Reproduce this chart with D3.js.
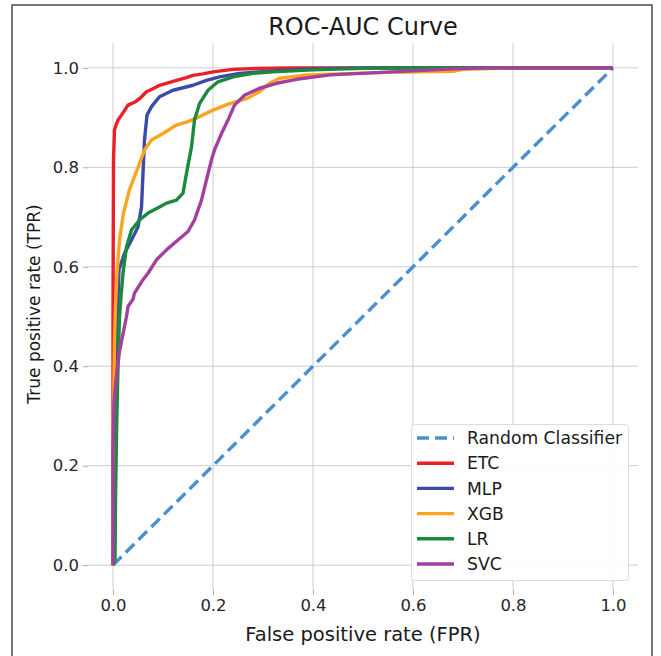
<!DOCTYPE html>
<html><head><meta charset="utf-8">
<script src="https://cdn.jsdelivr.net/npm/d3@7"></script>
<style>html,body{margin:0;padding:0;background:#fff;}svg{display:block;}</style>
</head><body>
<script>
const ticks = [0, 0.2, 0.4, 0.6, 0.8, 1.0];
const tickLabels = ["0.0", "0.2", "0.4", "0.6", "0.8", "1.0"];
const modelNames = ["ETC", "MLP", "XGB", "LR", "SVC"];
const randomFpr = [0, 1];
const randomTpr = [0, 1];
const etcFpr = [0, 0.0, 0.001, 0.003, 0.006, 0.01, 0.017, 0.03, 0.045, 0.053, 0.067, 0.08, 0.093, 0.11, 0.127, 0.145, 0.16, 0.18, 0.2, 0.24, 0.29, 0.35, 0.5, 1.0];
const etcTpr = [0, 0.5, 0.815, 0.875, 0.885, 0.895, 0.905, 0.925, 0.932, 0.938, 0.952, 0.958, 0.965, 0.97, 0.975, 0.98, 0.985, 0.988, 0.992, 0.997, 0.999, 1.0, 1.0, 1.0];
const mlpFpr = [0, 0.002, 0.003, 0.006, 0.008, 0.012, 0.023, 0.037, 0.05, 0.057, 0.06, 0.063, 0.068, 0.077, 0.093, 0.12, 0.16, 0.187, 0.213, 0.253, 0.32, 0.4, 0.5, 1.0];
const mlpTpr = [0, 0.1, 0.2, 0.4, 0.48, 0.594, 0.627, 0.654, 0.68, 0.72, 0.788, 0.855, 0.905, 0.922, 0.942, 0.955, 0.965, 0.975, 0.982, 0.989, 0.994, 0.998, 1.0, 1.0];
const xgbFpr = [0, 0.001, 0.003, 0.005, 0.008, 0.013, 0.021, 0.033, 0.05, 0.063, 0.077, 0.1, 0.127, 0.15, 0.173, 0.2, 0.233, 0.267, 0.293, 0.313, 0.333, 0.38, 0.45, 0.55, 0.68, 0.7, 0.8, 1.0];
const xgbTpr = [0, 0.3, 0.45, 0.52, 0.587, 0.654, 0.708, 0.755, 0.8, 0.835, 0.855, 0.868, 0.885, 0.892, 0.902, 0.915, 0.928, 0.938, 0.952, 0.969, 0.979, 0.985, 0.988, 0.991, 0.993, 0.997, 1.0, 1.0];
const lrFpr = [0, 0.004, 0.005, 0.007, 0.01, 0.013, 0.016, 0.02, 0.027, 0.037, 0.053, 0.07, 0.093, 0.107, 0.127, 0.14, 0.147, 0.157, 0.163, 0.173, 0.19, 0.21, 0.24, 0.28, 0.32, 0.4, 0.5, 0.6, 1.0];
const lrTpr = [0, 0.01, 0.13, 0.264, 0.4, 0.5, 0.54, 0.587, 0.64, 0.674, 0.694, 0.708, 0.72, 0.728, 0.734, 0.748, 0.788, 0.841, 0.895, 0.928, 0.955, 0.972, 0.982, 0.989, 0.992, 0.996, 0.999, 1.0, 1.0];
const svcFpr = [0, 0, 0.002, 0.008, 0.013, 0.02, 0.027, 0.03, 0.04, 0.043, 0.06, 0.07, 0.087, 0.107, 0.13, 0.15, 0.163, 0.177, 0.187, 0.197, 0.203, 0.217, 0.23, 0.243, 0.263, 0.293, 0.327, 0.367, 0.434, 0.6, 0.68, 0.75, 1.0];
const svcTpr = [0, 0.23, 0.33, 0.39, 0.43, 0.465, 0.5, 0.52, 0.535, 0.547, 0.574, 0.587, 0.614, 0.634, 0.654, 0.671, 0.694, 0.734, 0.775, 0.815, 0.835, 0.868, 0.895, 0.925, 0.945, 0.959, 0.969, 0.977, 0.986, 0.994, 0.998, 1.0, 1.0];

const W = 661, H = 656;
const svg = d3.select("body").append("svg").attr("width", W).attr("height", H);
const FONT = "DejaVu Sans, sans-serif";

// outer frame
svg.append("rect").attr("x", 12).attr("y", 5).attr("width", 640).attr("height", 700)
  .attr("fill", "none").attr("stroke", "#4a4a4a").attr("stroke-width", 1.5);

const x = d3.scaleLinear().domain([-0.05, 1.05]).range([88, 638]);
const y = d3.scaleLinear().domain([-0.05, 1.05]).range([590, 43]);

// grid
const g = svg.append("g");
g.selectAll(".vg").data(ticks).join("line")
  .attr("x1", d => x(d)).attr("x2", d => x(d)).attr("y1", y(1.05)).attr("y2", y(-0.05))
  .attr("stroke", "#cdcdcd").attr("stroke-width", 1);
g.selectAll(".hg").data(ticks).join("line")
  .attr("y1", d => y(d)).attr("y2", d => y(d)).attr("x1", x(-0.05)).attr("x2", x(1.05))
  .attr("stroke", "#cdcdcd").attr("stroke-width", 1);

// axes
const xAxis = d3.axisBottom(x).tickValues(ticks).tickFormat((d, i) => tickLabels[i]).tickSize(5).tickPadding(4);
const yAxis = d3.axisLeft(y).tickValues(ticks).tickFormat((d, i) => tickLabels[i]).tickSize(5).tickPadding(4);
const ax = svg.append("g").attr("transform", `translate(0,${y(-0.05)})`).call(xAxis);
const ay = svg.append("g").attr("transform", `translate(${x(-0.05)},0)`).call(yAxis);
[ax, ay].forEach(a => {
  a.select(".domain").remove();
  a.selectAll(".tick line").attr("stroke", "#aaaaaa");
  a.selectAll(".tick text").attr("fill", "#262626").style("font-family", FONT).style("font-size", "16.5px");
});

// lines
const series = [
  { name: "Random Classifier", fpr: randomFpr, tpr: randomTpr, color: "#4a8fd4", dash: "12,6" },
  { name: modelNames[0], fpr: etcFpr, tpr: etcTpr, color: "#ea1f27" },
  { name: modelNames[1], fpr: mlpFpr, tpr: mlpTpr, color: "#3b4ba8" },
  { name: modelNames[2], fpr: xgbFpr, tpr: xgbTpr, color: "#fba41f" },
  { name: modelNames[3], fpr: lrFpr, tpr: lrTpr, color: "#1b8a3c" },
  { name: modelNames[4], fpr: svcFpr, tpr: svcTpr, color: "#a3409f" }
];
const line = d3.line().x(d => x(d[0])).y(d => y(d[1]));
series.forEach(s => {
  svg.append("path").datum(s.fpr.map((f, i) => [f, s.tpr[i]]))
    .attr("d", line).attr("fill", "none").attr("stroke", s.color)
    .attr("stroke-width", 3.4).attr("stroke-dasharray", s.dash || null)
    .attr("stroke-linejoin", "round");
});

// title & labels
svg.append("text").attr("x", 363).attr("y", 35).attr("text-anchor", "middle")
  .style("font-family", FONT).style("font-size", "24px").attr("fill", "#1a1a1a").text("ROC-AUC Curve");
svg.append("text").attr("x", 363).attr("y", 641).attr("text-anchor", "middle")
  .style("font-family", FONT).style("font-size", "19.5px").attr("fill", "#1a1a1a").text("False positive rate (FPR)");
svg.append("text").attr("transform", "translate(40,304) rotate(-90)").attr("text-anchor", "middle")
  .style("font-family", FONT).style("font-size", "17px").attr("fill", "#1a1a1a").text("True positive rate (TPR)");

// legend
const lg = svg.append("g");
lg.append("rect").attr("x", 411.5).attr("y", 424.5).attr("width", 217).attr("height", 156).attr("rx", 3)
  .attr("fill", "#ffffff").attr("fill-opacity", 0.9).attr("stroke", "#dddddd");
series.forEach((s, i) => {
  const yy = 438 + i * 25.2;
  lg.append("line").attr("x1", 417).attr("x2", 454).attr("y1", yy).attr("y2", yy)
    .attr("stroke", s.color).attr("stroke-width", 3.4).attr("stroke-dasharray", s.dash || null);
  lg.append("text").attr("x", 467).attr("y", yy).attr("dy", "0.36em")
    .style("font-family", FONT).style("font-size", "17.2px").attr("fill", "#1a1a1a").text(s.name);
});
</script>
</body></html>
